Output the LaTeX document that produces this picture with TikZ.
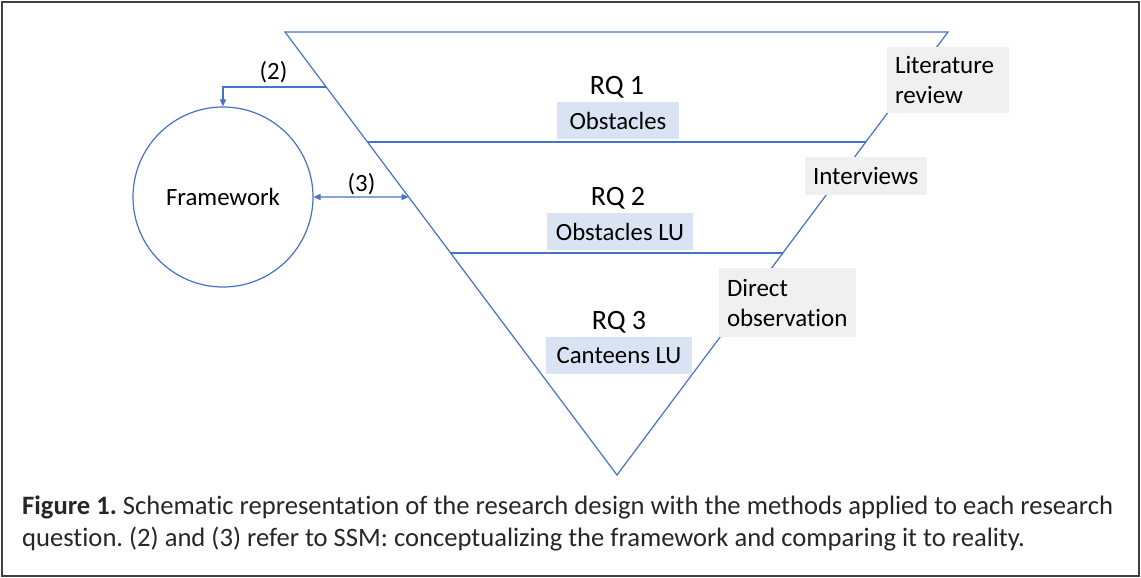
\documentclass[tikz,border=0pt]{standalone}
\usepackage{fontspec}
\setmainfont[Ligatures={NoCommon}]{Carlito}
\usetikzlibrary{arrows.meta,calc}
\definecolor{lineblue}{HTML}{4472C4}
\definecolor{boxblue}{HTML}{DAE3F3}
\definecolor{boxgray}{HTML}{F0F0F0}
\definecolor{framegray}{HTML}{404040}
\frenchspacing
\tikzset{
  tri/.style={draw=lineblue, line width=1.2pt},
  arr/.style={draw=lineblue, line width=1.1pt, -{Triangle[length=7pt,width=6pt]}},
  darr/.style={draw=lineblue, line width=1.1pt, {Triangle[length=7pt,width=6pt]}-{Triangle[length=7pt,width=6pt]}},
  lbl/.style={font=\fontsize{24.8}{29}\selectfont, inner sep=0pt},
  rq/.style={font=\fontsize{28}{33}\selectfont, inner sep=0pt},
  bluebox/.style={fill=boxblue, font=\fontsize{24.8}{29}\selectfont, minimum height=37pt, inner sep=0pt},
  graybox/.style={fill=boxgray, font=\fontsize{25}{30}\selectfont, align=left, inner xsep=8pt, inner ysep=0pt},
  captxt/.style={font=\fontsize{26.6}{32}\selectfont, inner sep=0pt, text=black!85},
}
\begin{document}
\begin{tikzpicture}[x=1pt,y=-1pt]
\useasboundingbox (0,0) rectangle (1141,578);
\draw[framegray, line width=2pt] (1.5,2) rectangle (1139,576);
% triangle
\coordinate (TL) at (285,32);
\coordinate (TR) at (948,32);
\coordinate (B) at (617,475);
\draw[tri] (TL) -- (TR) -- (B) -- cycle;
\coordinate (L1) at ($(TL)!110/443!(B)$);
\coordinate (R1) at ($(TR)!110/443!(B)$);
\coordinate (L2) at ($(TL)!221/443!(B)$);
\coordinate (R2) at ($(TR)!221/443!(B)$);
\draw[tri] (L1) -- (R1);
\draw[tri] (L2) -- (R2);
% framework circle
\node[circle, draw=lineblue, line width=1.2pt, minimum size=180pt, inner sep=0pt, font=\fontsize{24.8}{29}\selectfont] (fw) at (223,197) {Framework};
\coordinate (p2) at ($(TL)!55/443!(B)$);
\coordinate (p3) at ($(TL)!165/443!(B)$);
\draw[arr] (p2) -| (fw.north);
\draw[darr] (fw.east) -- (p3);
\node[lbl] (l2) at (273.5,72) {(2)};
\node[lbl] (l3) at (361.5,184) {(3)};
% RQ labels
\node[rq] (rq1) at (617,87) {RQ 1};
\node[bluebox, minimum width=122pt] (b1) at (618,120.5) {Obstacles};
\node[rq] (rq2) at (618,198) {RQ 2};
\node[bluebox, minimum width=146pt] (b2) at (620,231.5) {Obstacles LU};
\node[rq] (rq3) at (619,322) {RQ 3};
\node[bluebox, minimum width=146pt] (b3) at (619,355.5) {Canteens LU};
% methods
\node[graybox, text width=106pt, minimum height=66pt] (m1) at (948,80) {Literature\\review};
\node[graybox, text width=106pt, minimum height=38pt] (m2) at (866,176) {Interviews};
\node[graybox, text width=121pt, minimum height=69pt] (m3) at (787.5,302.5) {Direct\\observation};
% caption
\node[captxt, anchor=base west] (c1) at (22,514) {\textbf{Figure 1.} Schematic representation of the research design with the methods applied to each research};
\node[captxt, anchor=base west] (c2) at (22,546) {question. (2) and (3) refer to SSM: conceptualizing the framework and comparing it to reality.};
\end{tikzpicture}
\end{document}
